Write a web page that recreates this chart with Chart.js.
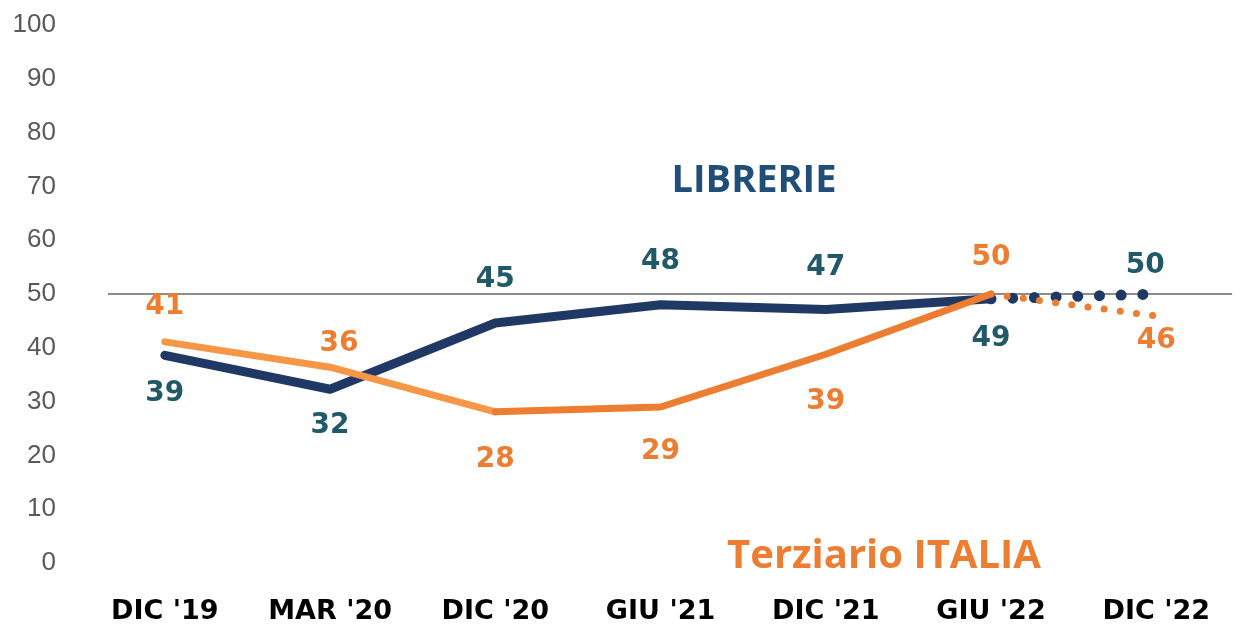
<!DOCTYPE html>
<html>
<head>
<meta charset="utf-8">
<script src="https://cdn.jsdelivr.net/npm/chart.js@4"></script>
<style>
  html, body { margin: 0; padding: 0; background: #fff; }
</style>
</head>
<body>
<canvas id="grafico" width="1235" height="626"></canvas>
<script>
// dati
const periodi = ["DIC '19", "MAR '20", "DIC '20", "GIU '21", "DIC '21", "GIU '22", "DIC '22"];
const librerie = [38.6, 32.3, 44.6, 48.0, 47.1, 49.1, 50.0];
const terziario = [41.1, 36.4, 28.1, 29.0, 38.8, 50.0, 45.9];
const yTicks = [0, 10, 20, 30, 40, 50, 60, 70, 80, 90, 100];

// posizione etichette (dx, dy in px rispetto al punto)
const offLib = [[0, 38], [0, 36], [0, -43], [0, -43], [0, -42], [0, 40], [-11, -28]];
const offTer = [[0, -35], [9, -23], [0, 48], [0, 45], [0, 47], [0, -36], [0, 25]];

const NAVY = '#1f3864';
const NAVY_TXT = '#215968';
const ORANGE = '#ed7d31';
const ORANGE_L = '#f79646';

const etichette = {
  id: 'etichette',
  afterDatasetsDraw(chart) {
    const ctx = chart.ctx;
    ctx.save();
    ctx.textAlign = 'center';
    ctx.textBaseline = 'middle';
    ctx.font = 'bold 28px "DejaVu Sans"';
    chart.data.datasets.forEach((ds, i) => {
      const meta = chart.getDatasetMeta(i);
      ctx.fillStyle = ds.labelColor;
      meta.data.forEach((pt, j) => {
        const o = ds.offsets[j];
        ctx.fillText(Math.round(ds.data[j].y), pt.x + o[0], pt.y + o[1]);
      });
    });
    ctx.font = 'bold 38px "Open Sans"';
    ctx.fillStyle = '#1f4e79';
    ctx.fillText('LIBRERIE', 754, 181);
    ctx.fillStyle = ORANGE;
    ctx.font = 'bold 40px "Open Sans"';
    ctx.fillText('Terziario ITALIA', 884, 557);
    ctx.restore();
  }
};

new Chart(document.getElementById('grafico'), {
  type: 'line',
  data: {
    datasets: [
      {
        label: 'Terziario ITALIA',
        data: terziario.map((v, i) => ({ x: i, y: v })),
        borderColor: ORANGE,
        borderWidth: 7,
        borderCapStyle: 'round',
        borderJoinStyle: 'round',
        pointRadius: 0,
        order: 0,
        labelColor: ORANGE,
        offsets: offTer,
        segment: {
          borderColor: c => c.p0DataIndex < 2 ? ORANGE_L : ORANGE,
          borderDash: c => c.p0DataIndex === 5 ? [0, 16.3] : undefined
        }
      },
      {
        label: 'LIBRERIE',
        data: librerie.map((v, i) => ({ x: i, y: v })),
        borderColor: NAVY,
        borderWidth: 9,
        borderCapStyle: 'round',
        borderJoinStyle: 'round',
        pointRadius: 0,
        order: 1,
        labelColor: NAVY_TXT,
        offsets: offLib,
        segment: {
          borderWidth: c => c.p0DataIndex === 5 ? 11 : 9,
          borderDash: c => c.p0DataIndex === 5 ? [0, 21.7] : undefined
        }
      }
    ]
  },
  options: {
    responsive: false,
    animation: false,
    layout: { padding: { top: 25, right: 0, left: 0, bottom: 0 } },
    plugins: {
      legend: { display: false },
      tooltip: { enabled: false }
    },
    scales: {
      x: {
        type: 'linear',
        min: -0.344,
        max: 6.459,
        afterBuildTicks: s => { s.ticks = periodi.map((p, i) => ({ value: i })); },
        afterFit: s => { s.height = 63; },
        grid: { display: false },
        border: { display: false },
        ticks: {
          autoSkip: false,
          maxRotation: 0,
          padding: 25,
          color: '#000',
          font: { family: '"DejaVu Sans"', size: 27, weight: 'bold' },
          callback: v => periodi[v]
        }
      },
      y: {
        min: 0,
        max: 100,
        afterBuildTicks: s => { s.ticks = yTicks.map(v => ({ value: v })); },
        afterFit: s => { s.width = 108; s.paddingTop = 15; s.paddingBottom = 15; },
        border: { display: false },
        grid: {
          drawTicks: false,
          color: c => c.tick.value === 50 ? '#8c8c8c' : 'rgba(0,0,0,0)',
          lineWidth: 2
        },
        ticks: {
          padding: 52,
          color: '#595959',
          font: { family: '"Liberation Sans"', size: 26 }
        }
      }
    }
  },
  plugins: [etichette]
});
</script>
</body>
</html>
